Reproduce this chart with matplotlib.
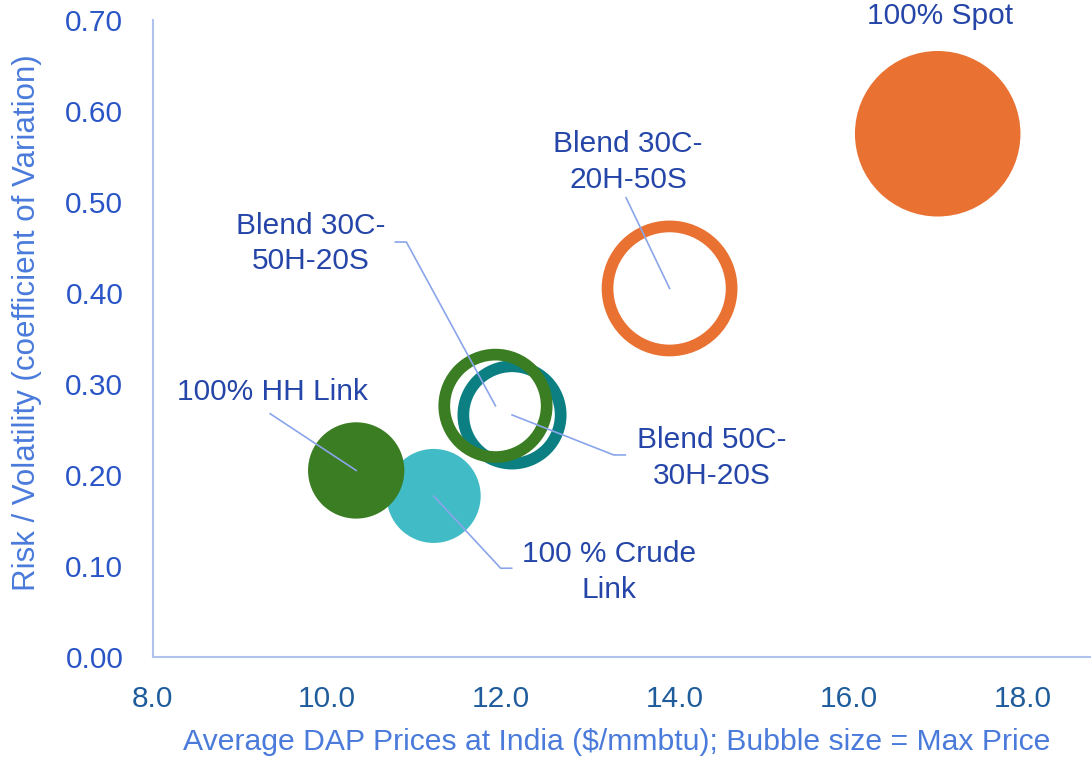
import matplotlib
matplotlib.use("Agg")
import matplotlib.pyplot as plt
from matplotlib.lines import Line2D
import matplotlib.transforms as mtransforms
import numpy as np

# ---- data ----
names = ["100% Spot", "Blend 30C-\n20H-50S", "Blend 50C-\n30H-20S",
         "Blend 30C-\n50H-20S", "100 % Crude\nLink", "100% HH Link"]
avg_price = [17.02, 13.94, 12.13, 11.94, 11.23, 10.34]
volatility = [0.575, 0.405, 0.266, 0.276, 0.177, 0.205]
max_price = [56.4, 31.7, 19.5, 21.6, 18.2, 19.1]
filled = [True, False, False, False, True, True]
colors = ["#E97132", "#E97132", "#0B7F82", "#3B7D23", "#41BBC5", "#3B7D23"]

x_ticks = [8, 10, 12, 14, 16, 18]
y_ticks = [0.0, 0.1, 0.2, 0.3, 0.4, 0.5, 0.6, 0.7]

# label placement (pixel offsets from bubble centre, +x right, +y up)
label_offsets = [(2.5, 118), (-41.5, 126.5), (200, -43), (-185, 162), (175, -76), (-84, 78)]
leader_paths = [
    [],
    [(0, 0), (-43.5, 90.7)],
    [(0, 0), (101.6, -40), (113.3, -40)],
    [(0, 0), (-89.1, 163.8), (-100.1, 163.8)],
    [(0, 0), (67, -72.3), (78, -72.3)],
    [(0, 0), (-86, 56.7)],
]

DPI = 100
W, H = 1091, 758
FONT = "Liberation Sans"
plt.rcParams["font.family"] = [FONT, "DejaVu Sans"]

fig = plt.figure(figsize=(W / DPI, H / DPI), dpi=DPI)
ax_left, ax_bottom_px, ax_top_px = 152.5, 657, 20
ax = fig.add_axes([ax_left / W, (H - ax_bottom_px) / H, (W - ax_left) / W,
                   (ax_bottom_px - ax_top_px) / H])
ax.set_xlim(8, 8 + (W - ax_left) / 87.05)
ax.set_ylim(0, 0.70)

ax.spines["top"].set_visible(False)
ax.spines["right"].set_visible(False)
for s in ("left", "bottom"):
    ax.spines[s].set_color("#AFC3EE")
    ax.spines[s].set_linewidth(1.5)

ax.set_xticks(x_ticks)
ax.set_xticklabels([f"{v:.1f}" for v in x_ticks])
ax.set_yticks(y_ticks)
ax.set_yticklabels([f"{v:.2f}" for v in y_ticks])
ax.tick_params(axis="both", length=0, labelsize=21.5)
ax.tick_params(axis="x", pad=20, labelcolor="#1F5C9C")
ax.tick_params(axis="y", pad=21, labelcolor="#2A55C6")

# bubble radius in px = K*sqrt(size)
K = 11.02
ring_lw_px = 11.7
for i in range(len(names)):
    r = K * np.sqrt(max_price[i])
    d_pt = 2 * r * 72 / DPI
    if filled[i]:
        ax.scatter([avg_price[i]], [volatility[i]], s=d_pt ** 2, color=colors[i],
                   edgecolors="none", zorder=2 + i * 0.1, clip_on=False)
    else:
        ax.scatter([avg_price[i]], [volatility[i]], s=d_pt ** 2, facecolors="none",
                   edgecolors=colors[i], linewidths=ring_lw_px * 72 / DPI,
                   zorder=2 + i * 0.1, clip_on=False)

fig.canvas.draw()
for i in range(len(names)):
    px, py = ax.transData.transform((avg_price[i], volatility[i]))
    path = leader_paths[i]
    if path:
        xs = [px + p[0] for p in path]
        ys = [py + p[1] for p in path]
        fig.add_artist(Line2D(xs, ys, transform=mtransforms.IdentityTransform(),
                              color="#8AA5EA", lw=1.2, zorder=5))
    dx, dy = label_offsets[i]
    fig.text((px + dx) / W, (py + dy) / H, names[i], ha="center", va="center",
             multialignment="center", fontsize=21.5, color="#2546A8",
             linespacing=1.33, zorder=6)

fig.text(617 / W, (H - 742) / H,
         "Average DAP Prices at India ($/mmbtu); Bubble size = Max Price",
         ha="center", va="center", fontsize=21.7, color="#4A7BDB")
fig.text(27.5 / W, (H - 323) / H, "Risk / Volatility (coefficient of Variation)",
         ha="center", va="center", rotation=90, fontsize=22.5, color="#4A7BDB")

fig.savefig("out.png", dpi=DPI)
